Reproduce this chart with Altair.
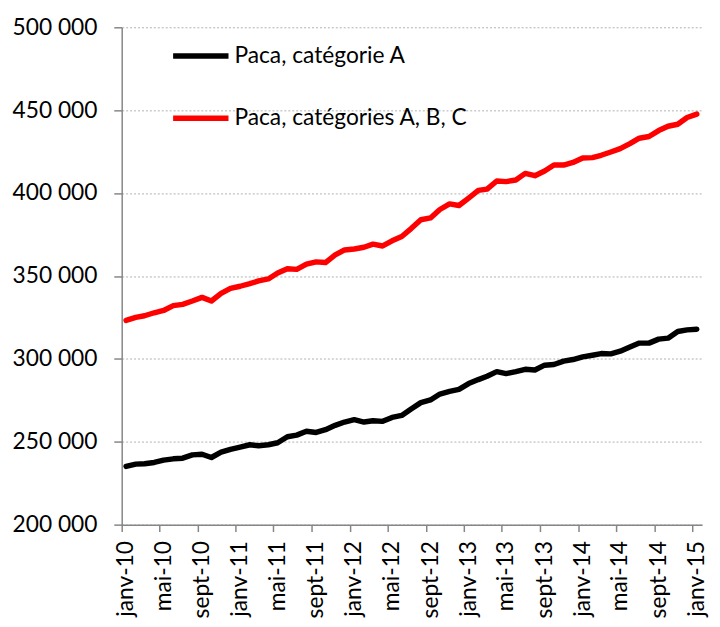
import altair as alt
import pandas as pd

# Monthly series, janv-10 .. janv-15 (61 months)
series_a_name = "Paca, catégorie A"
series_abc_name = "Paca, catégories A, B, C"

cat_a = [235100, 236500, 236700, 237500, 238900, 239700, 240100, 242100, 242500, 240500,
         243700, 245400, 246800, 248200, 247600, 248200, 249400, 253000, 254000, 256300,
         255600, 257300, 259900, 261900, 263300, 261900, 262700, 262300, 264700, 265900,
         269800, 273600, 275200, 278800, 280400, 281600, 285100, 287500, 289500, 292300,
         291100, 292300, 293700, 293300, 296200, 296600, 298600, 299600, 301200, 302200,
         303200, 303000, 304600, 307100, 309500, 309500, 311900, 312500, 316500, 317500,
         317900]

cat_abc = [323200, 325000, 326000, 327800, 329200, 332100, 332900, 334900, 337100, 334900,
           339500, 342500, 343800, 345400, 347000, 348200, 351800, 354400, 354000, 357100,
           358500, 358100, 362700, 365700, 366300, 367300, 369200, 368100, 371200, 373800,
           378600, 383900, 385000, 390100, 393500, 392500, 397000, 401600, 402400, 407300,
           406900, 407900, 411900, 410500, 413300, 416900, 416900, 418500, 421200, 421400,
           422800, 424800, 426800, 429800, 433100, 434100, 437700, 440300, 441500, 445600,
           447600]

french_months = ["janv", "févr", "mars", "avr", "mai", "juin",
                 "juil", "août", "sept", "oct", "nov", "déc"]
y_ticks = [200000, 250000, 300000, 350000, 400000, 450000, 500000]

month_starts = pd.date_range("2010-01-01", periods=len(cat_a), freq="MS")
mid_month = month_starts + pd.Timedelta(days=14)
dates = [d.strftime("%Y-%m-%d") for d in mid_month]

df = pd.DataFrame({
    "date": dates * 2,
    "value": cat_a + cat_abc,
    "series": [series_a_name] * len(cat_a) + [series_abc_name] * len(cat_abc),
})

tick_dates = [alt.DateTime(year=y, month=m, date=1, utc=True)
              for y in range(2010, 2016) for m in (1, 5, 9) if not (y == 2015 and m > 1)]

months_js = "[" + ",".join("'" + m + "'" for m in french_months) + "]"
x_label_expr = months_js + "[utcmonth(datum.value)] + '-' + utcFormat(datum.value, '%y')"

FONT = "Lato"
AXIS_COLOR = "#868686"

chart = alt.Chart(df).mark_line(strokeWidth=5.5, strokeCap="round", strokeJoin="round").encode(
    x=alt.X("date:T",
            scale=alt.Scale(type="utc",
                            domain=[alt.DateTime(year=2010, month=1, date=1, utc=True),
                                    alt.DateTime(year=2015, month=2, date=1, utc=True)]),
            axis=alt.Axis(title=None, values=tick_dates, labelExpr=x_label_expr,
                          labelAngle=270, labelAlign="right", labelBaseline="middle",
                          labelFont=FONT, labelFontSize=23, labelColor="black",
                          tickSize=7, tickColor=AXIS_COLOR, tickWidth=1.5,
                          domainColor=AXIS_COLOR, domainWidth=1.5, labelOffset=4,
                          labelPadding=9, grid=False, labelOverlap=False, labelFlush=False)),
    y=alt.Y("value:Q",
            scale=alt.Scale(domain=[200000, 500000], nice=False, zero=False),
            axis=alt.Axis(title=None, values=y_ticks,
                          labelExpr="replace(format(datum.value, ','), ',', ' ')",
                          labelFont=FONT, labelFontSize=23, labelColor="black",
                          tickSize=8, tickColor=AXIS_COLOR, tickWidth=1.5,
                          domainColor=AXIS_COLOR, domainWidth=1.5, labelPadding=17,
                          grid=True, gridColor="#b0b0b0", gridDash=[2, 2], gridWidth=1)),
    color=alt.Color("series:N",
                    scale=alt.Scale(domain=[series_a_name, series_abc_name],
                                    range=["#000000", "#ff0000"]),
                    legend=alt.Legend(title=None, orient="none", legendX=49, legendY=-2,
                                      symbolType="stroke", symbolSize=3136,
                                      symbolStrokeWidth=5.5, labelFont=FONT,
                                      labelFontSize=23, labelColor="black",
                                      labelLimit=0, labelOffset=3, rowPadding=20,
                                      padding=0)),
).properties(
    width=587,
    height=503,
    padding={"left": 115, "top": 16, "right": 10, "bottom": 100},
    autosize=alt.AutoSizeParams(type="none"),
).configure_view(stroke=None)

chart.save("out.html", embed_options={"renderer": "svg", "actions": False})
